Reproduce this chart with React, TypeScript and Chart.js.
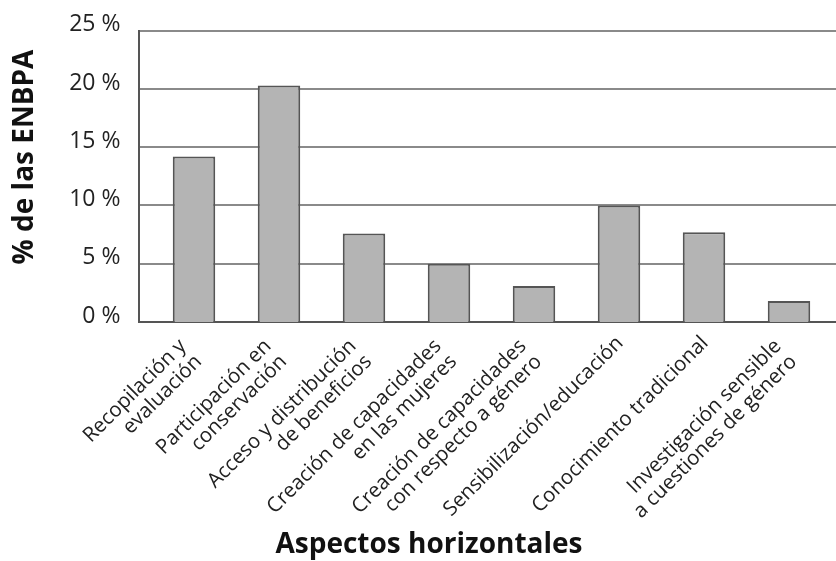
import React, { useEffect, useRef } from 'react';
import { Chart, registerables } from 'chart.js';

Chart.register(...registerables);

const categories: string[][] = [
  ['Recopilación y', 'evaluación'],
  ['Participación en', 'conservación'],
  ['Acceso y distribución', 'de beneficios'],
  ['Creación de capacidades', 'en las mujeres'],
  ['Creación de capacidades', 'con respecto a género'],
  ['Sensibilización/educación'],
  ['Conocimiento tradicional'],
  ['Investigación sensible', 'a cuestiones de género'],
];
const values = [14.2, 20.3, 7.6, 5.0, 3.1, 10.0, 7.7, 1.8];
const yTicks = [0, 5, 10, 15, 20, 25];
const yTitle = '% de las ENBPA';
const xTitle = 'Aspectos horizontales';

const FONT = '"Open Sans", "Noto Sans", sans-serif';
const gridColor = '#8a8a8a';
const axisColor = '#555555';
const textColor = '#222222';

const framePlugin = {
  id: 'frame',
  beforeDatasetsDraw(chart: any) {
    const { ctx, chartArea, scales } = chart;
    const y = scales.y;
    const left = chartArea.left - 12.5;
    ctx.save();
    ctx.lineWidth = 2;
    yTicks.forEach((v) => {
      const py = Math.round(y.getPixelForValue(v));
      ctx.strokeStyle = v === 0 ? axisColor : gridColor;
      ctx.beginPath();
      ctx.moveTo(left, py);
      ctx.lineTo(chart.width, py);
      ctx.stroke();
    });
    ctx.strokeStyle = axisColor;
    ctx.beginPath();
    ctx.moveTo(left, Math.round(y.getPixelForValue(yTicks[yTicks.length - 1])) - 1);
    ctx.lineTo(left, Math.round(y.getPixelForValue(0)) + 1);
    ctx.stroke();
    ctx.restore();
  },
  afterDraw(chart: any) {
    const { ctx, chartArea, scales } = chart;
    const x = scales.x;
    const lh = 22;
    const th = (-45 * Math.PI) / 180;
    ctx.save();
    ctx.font = `20.5px ${FONT}`;
    ctx.fillStyle = textColor;
    ctx.textAlign = 'right';
    ctx.textBaseline = 'middle';
    categories.forEach((lines, i) => {
      const cx = x.getPixelForValue(i);
      const n = lines.length;
      const dx = n > 1 ? -10.6 : 0;
      const dy = n > 1 ? -6.4 : 0;
      ctx.save();
      ctx.translate(cx + 1, chartArea.bottom + 18);
      ctx.rotate(th);
      lines.forEach((t, k) => ctx.fillText(t, dx, dy + k * lh));
      ctx.restore();
    });
    // axis titles
    ctx.fillStyle = '#111111';
    ctx.textAlign = 'center';
    ctx.textBaseline = 'middle';
    ctx.font = `bold 28px ${FONT}`;
    ctx.save();
    ctx.translate(25, 157);
    ctx.rotate(-Math.PI / 2);
    ctx.fillText(yTitle, 0, 0);
    ctx.restore();
    ctx.font = `bold 28px ${FONT}`;
    ctx.fillText(xTitle, 429, 545);
    ctx.restore();
  },
};

export default function App() {
  const ref = useRef<HTMLCanvasElement>(null);
  useEffect(() => {
    const canvas = ref.current;
    if (!canvas) return;
    const chart = new Chart(canvas, {
      type: 'bar',
      data: {
        labels: categories.map((l) => l.join(' ')),
        datasets: [
          {
            data: values,
            backgroundColor: '#b4b4b4',
            borderColor: '#555555',
            borderWidth: 2,
            barPercentage: 0.5,
            categoryPercentage: 1,
          },
        ],
      },
      options: {
        animation: false,
        responsive: true,
        maintainAspectRatio: false,
        layout: { padding: { top: 30.7, right: 4.5, left: 0, bottom: 0 } },
        plugins: { legend: { display: false }, tooltip: { enabled: false }, title: { display: false } },
        scales: {
          x: {
            offset: true,
            grid: { display: false, drawTicks: false },
            border: { display: false },
            ticks: { display: false },
            afterFit: (s: any) => {
              s.height = 239;
              s.paddingLeft = 0;
              s.paddingRight = 0;
            },
          },
          y: {
            min: 0,
            max: 25,
            grid: { display: false, drawTicks: false },
            border: { display: false },
            ticks: {
              stepSize: 5,
              padding: 31,
              labelOffset: -6,
              color: textColor,
              font: { family: FONT, size: 23 },
              callback: (v: any) => `${v} %`,
            },
            afterFit: (s: any) => {
              s.width = 151.5;
              s.paddingTop = 0;
              s.paddingBottom = 0;
            },
          },
        },
      },
      plugins: [framePlugin],
    });
    return () => chart.destroy();
  }, []);
  return (
    <div style={{ position: 'fixed', left: 0, top: 0, width: 836, height: 561, background: '#ffffff' }}>
      <canvas ref={ref} />
    </div>
  );
}
